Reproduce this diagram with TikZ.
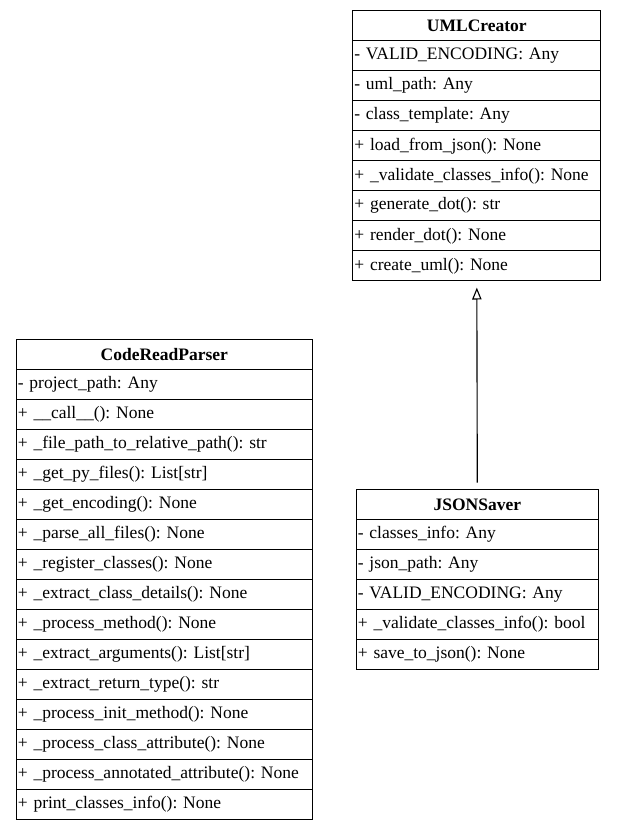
\documentclass[tikz,border=0pt]{standalone}
\usepackage{fontspec}
\setmainfont{Liberation Serif}
\usepackage{tikz}
\usetikzlibrary{matrix}
\usetikzlibrary{arrows.meta}
\usetikzlibrary{positioning}
\tikzset{>=stealth}
\frenchspacing
\tikzset{
    umlclass/.style={matrix of nodes, inner sep=0pt, row sep=-0.9pt, anchor=north west,
        nodes={draw, line width=0.9pt, outer sep=0pt, minimum height=24pt, inner xsep=1.2pt, inner ysep=0pt, align=left, font=\fontsize{14}{16}\selectfont},
        row 1/.style={nodes={align=center, font=\fontsize{14}{16}\selectfont\bfseries}}},
    inherits/.style={-{Triangle[open, length=9.5pt, width=7.5pt]}, line width=0.9pt, shorten >=4.8pt, shorten <=4.8pt}
}
\begin{document}
\begin{tikzpicture}[x=0.8pt, y=-0.8pt]
    \useasboundingbox (0,0) rectangle (617,830);
    \matrix (umlcreator) [umlclass, nodes={text width=196pt}] at (352,10)
    {
        UMLCreator \\
        - VALID\_ENCODING: Any \\
        - uml\_path: Any \\
        - class\_template: Any \\
        + load\_from\_json(): None \\
        + \_validate\_classes\_info(): None \\
        + generate\_dot(): str \\
        + render\_dot(): None \\
        + create\_uml(): None \\
    };
    \matrix (codereadparser) [umlclass, nodes={text width=234.4pt}] at (15.5,338.5)
    {
        CodeReadParser \\
        - project\_path: Any \\
        + \_\_call\_\_(): None \\
        + \_file\_path\_to\_relative\_path(): str \\
        + \_get\_py\_files(): List[str] \\
        + \_get\_encoding(): None \\
        + \_parse\_all\_files(): None \\
        + \_register\_classes(): None \\
        + \_extract\_class\_details(): None \\
        + \_process\_method(): None \\
        + \_extract\_arguments(): List[str] \\
        + \_extract\_return\_type(): str \\
        + \_process\_init\_method(): None \\
        + \_process\_class\_attribute(): None \\
        + \_process\_annotated\_attribute(): None \\
        + print\_classes\_info(): None \\
    };
    \matrix (jsonsaver) [umlclass, nodes={text width=191.2pt}] at (355.5,488.5)
    {
        JSONSaver \\
        - classes\_info: Any \\
        - json\_path: Any \\
        - VALID\_ENCODING: Any \\
        + \_validate\_classes\_info(): bool \\
        + save\_to\_json(): None \\
    };
    \draw[inherits] (jsonsaver.north) -- (umlcreator.south);
\end{tikzpicture}
\end{document}
